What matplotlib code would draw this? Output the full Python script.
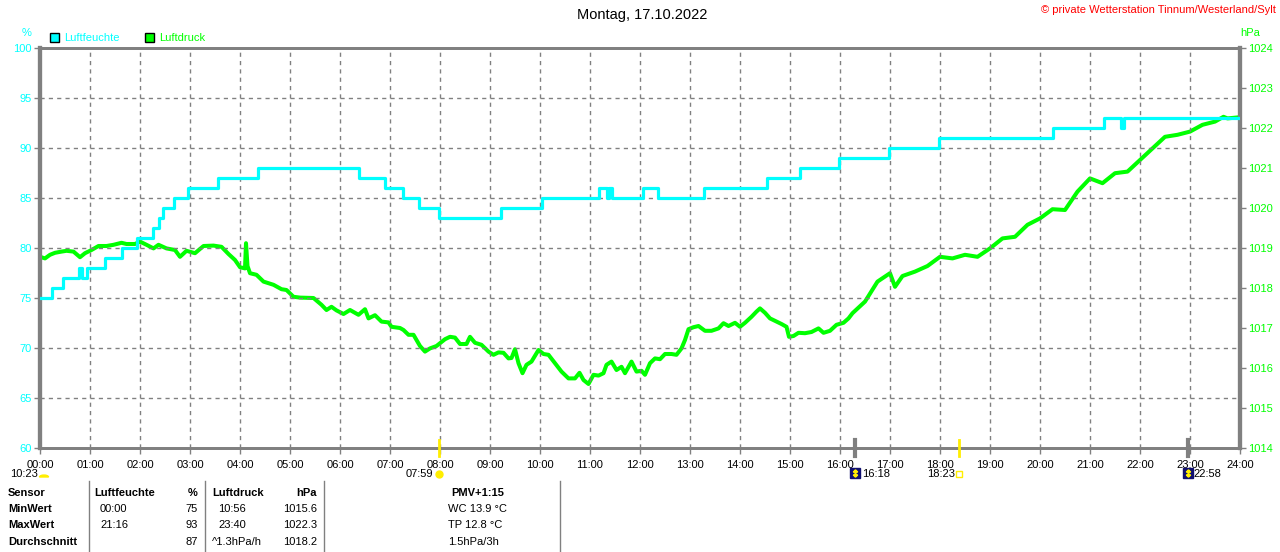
import matplotlib
matplotlib.use("Agg")
import matplotlib.pyplot as plt
import matplotlib.transforms as mtrans
from matplotlib.patches import Rectangle, Wedge
from matplotlib.lines import Line2D

# ---------------- data ----------------
hours = list(range(25))
hour_labels = [f"{h:02d}:00" for h in hours]
hum_ticks = [60, 65, 70, 75, 80, 85, 90, 95, 100]
press_ticks = list(range(1014, 1025))

hum_t = [0, 0.23, 0.45, 0.77, 0.83, 0.93, 1.30, 1.63, 1.93, 2.25, 2.37, 2.45, 2.67, 2.95,
         3.55, 4.35, 6.37, 6.89, 7.25, 7.58, 7.97, 9.21, 10.03, 11.18, 11.33, 11.38, 11.43,
         12.05, 12.35, 13.27, 14.53, 15.2, 15.97, 16.97, 17.98, 20.25, 21.27, 21.62, 21.68, 24]
hum_v = [75, 76, 77, 78, 77, 78, 79, 80, 81, 82, 83, 84, 85, 86,
         87, 88, 87, 86, 85, 84, 83, 84, 85, 86, 85, 86, 85,
         86, 85, 86, 87, 88, 89, 90, 91, 92, 93, 92, 93, 93]

press_t = [0.00, 0.10, 0.20, 0.30, 0.43, 0.53, 0.67, 0.80, 0.90, 1.03, 1.17, 1.33, 1.47, 1.63,
           1.73, 1.90, 2.00, 2.13, 2.27, 2.37, 2.53, 2.70, 2.80, 2.93, 3.10, 3.27, 3.47, 3.63,
           3.77, 3.90, 4.00, 4.10, 4.12, 4.15, 4.20, 4.33, 4.47, 4.57, 4.67, 4.83, 4.93, 5.07,
           5.20, 5.47, 5.63, 5.73, 5.83, 5.93, 6.07, 6.20, 6.37, 6.50, 6.57, 6.70, 6.83, 6.97,
           7.03, 7.20, 7.27, 7.37, 7.47, 7.60, 7.70, 7.80, 7.93, 8.00, 8.10, 8.20, 8.30, 8.40,
           8.53, 8.60, 8.70, 8.83, 8.97, 9.07, 9.17, 9.27, 9.37, 9.43, 9.50, 9.57, 9.65, 9.73,
           9.83, 9.97, 10.07, 10.17, 10.30, 10.43, 10.57, 10.70, 10.79, 10.87, 10.97, 11.07,
           11.17, 11.27, 11.33, 11.43, 11.53, 11.63, 11.70, 11.83, 11.93, 12.03, 12.10, 12.20,
           12.30, 12.40, 12.50, 12.63, 12.73, 12.83, 12.90, 12.97, 13.07, 13.17, 13.30, 13.43,
           13.57, 13.67, 13.77, 13.90, 14.00, 14.10, 14.23, 14.33, 14.40, 14.50, 14.60, 14.70,
           14.83, 14.93, 14.98, 15.07, 15.17, 15.30, 15.43, 15.57, 15.67, 15.80, 15.93, 16.07,
           16.17, 16.25, 16.50, 16.75, 17.00, 17.10, 17.25, 17.50, 17.75, 18.00, 18.25, 18.50,
           18.75, 19.00, 19.25, 19.50, 19.75, 20.00, 20.25, 20.50, 20.75, 21.00, 21.25, 21.50,
           21.75, 22.00, 22.25, 22.50, 22.75, 23.00, 23.25, 23.50, 23.67, 23.75, 24.00]
press_v = [1018.78, 1018.74, 1018.83, 1018.88, 1018.91, 1018.93, 1018.91, 1018.77, 1018.87, 1018.95,
           1019.05, 1019.05, 1019.08, 1019.13, 1019.10, 1019.10, 1019.16, 1019.08, 1018.99, 1019.08,
           1018.99, 1018.95, 1018.78, 1018.93, 1018.87, 1019.05, 1019.06, 1019.03, 1018.85, 1018.70,
           1018.52, 1018.49, 1019.12, 1018.55, 1018.37, 1018.33, 1018.16, 1018.12, 1018.08, 1017.97,
           1017.95, 1017.78, 1017.76, 1017.75, 1017.58, 1017.45, 1017.53, 1017.44, 1017.35, 1017.45,
           1017.33, 1017.47, 1017.24, 1017.32, 1017.16, 1017.14, 1017.03, 1017.00, 1016.95, 1016.83,
           1016.83, 1016.55, 1016.41, 1016.49, 1016.55, 1016.62, 1016.72, 1016.78, 1016.76, 1016.60,
           1016.60, 1016.78, 1016.63, 1016.58, 1016.41, 1016.33, 1016.39, 1016.38, 1016.24, 1016.25,
           1016.47, 1016.12, 1015.87, 1016.08, 1016.16, 1016.45, 1016.35, 1016.33, 1016.12, 1015.91,
           1015.74, 1015.74, 1015.88, 1015.70, 1015.60, 1015.83, 1015.81, 1015.87, 1016.08, 1016.16,
           1015.95, 1016.03, 1015.87, 1016.16, 1015.91, 1015.93, 1015.83, 1016.12, 1016.24, 1016.22,
           1016.35, 1016.35, 1016.33, 1016.49, 1016.70, 1016.97, 1017.02, 1017.05, 1016.93, 1016.93,
           1016.99, 1017.12, 1017.05, 1017.13, 1017.03, 1017.13, 1017.28, 1017.41, 1017.49, 1017.38,
           1017.24, 1017.18, 1017.10, 1017.03, 1016.78, 1016.80, 1016.88, 1016.87, 1016.90, 1016.99,
           1016.88, 1016.93, 1017.08, 1017.13, 1017.24, 1017.37, 1017.66, 1018.16, 1018.37, 1018.03,
           1018.30, 1018.41, 1018.55, 1018.78, 1018.74, 1018.83, 1018.78, 1018.99, 1019.24, 1019.28,
           1019.58, 1019.74, 1019.97, 1019.95, 1020.41, 1020.74, 1020.62, 1020.87, 1020.91, 1021.20,
           1021.49, 1021.78, 1021.83, 1021.91, 1022.08, 1022.16, 1022.28, 1022.24, 1022.27]

# events below x axis: (hour position, label)
sunrise = (7 + 59 / 60, "07:59")
sunset = (18 + 23 / 60, "18:23")
moon_a = (16 + 18 / 60, "16:18")
moon_b = (22 + 58 / 60, "22:58")
moon_prev = "10:23"

table_header = ["Sensor", "Luftfeuchte", "%", "Luftdruck", "hPa", "PMV+1:15"]
row_names = ["MinWert", "MaxWert", "Durchschnitt"]
hum_time = ["00:00", "21:16", ""]
hum_val = ["75", "93", "87"]
press_time = ["10:56", "23:40", "^1.3hPa/h"]
press_val = ["1015.6", "1022.3", "1018.2"]
pmv_col = ["WC 13.9 °C", "TP 12.8 °C", "1.5hPa/3h"]

# ---------------- style ----------------
CYAN = "#00FFFF"
GREEN = "#00FF00"
GRAY = "#808080"
YELLOW = "#FFEE00"
FONT = "Liberation Sans"
plt.rcParams["font.family"] = [FONT, "DejaVu Sans"]
plt.rcParams["font.size"] = 8

W, H = 1280, 552
fig = plt.figure(figsize=(W / 100, H / 100), dpi=100)
fig.patch.set_facecolor("white")
ax = fig.add_axes([40 / W, 1 - 448 / H, 1200 / W, 400 / H])
ax2 = ax.twinx()

def px(x, y):
    return x / W, 1 - y / H

def ft(x, y, s, **kw):
    fx, fy = px(x, y)
    kw.setdefault("va", "center")
    kw.setdefault("fontsize", 8)
    fig.text(fx, fy, s, **kw)

# axes, ticks, grid
ax.set_xlim(0, 24)
ax.set_ylim(60, 100)
ax2.set_ylim(1014, 1024)
ax.set_xticks(hours)
ax.set_xticklabels(hour_labels, fontsize=8)
ax.set_yticks(hum_ticks)
ax.set_yticklabels([str(v) for v in hum_ticks], color=CYAN, fontsize=8)
ax2.set_yticks(press_ticks)
ax2.set_yticklabels([str(v) for v in press_ticks], color=GREEN, fontsize=8)
ax.grid(True, color=GRAY, linestyle=(0, (3, 3)), linewidth=1)
ax.tick_params(axis="both", length=4, width=1, color=GRAY, pad=2)
ax.tick_params(axis="x", pad=5)
ax2.tick_params(axis="y", length=4, width=1, color=GRAY, pad=2)
for a in (ax, ax2):
    for side, sp in a.spines.items():
        sp.set_color(GRAY)
        sp.set_linewidth(3 if side in ("left", "right") else 2)

# data lines
ax2.plot(press_t, press_v, color=GREEN, linewidth=2.9, zorder=3)
ax.set_zorder(ax2.get_zorder() + 1)
ax.patch.set_visible(False)
ax.step(hum_t, hum_v, where="post", color=CYAN, linewidth=2.3, zorder=4)

# unit labels
ft(27, 33, "%", color=CYAN, ha="center")
ft(1250, 33, "hPa", color=GREEN, ha="center")

# legend
for x0, col, lab in [(50, CYAN, "Luftfeuchte"), (145, GREEN, "Luftdruck")]:
    fx, fy = px(x0, 42)
    fig.patches.append(Rectangle((fx, fy), 9 / W, 9 / H, transform=fig.transFigure,
                                 facecolor=col, edgecolor="black", linewidth=1))
    ft(x0 + 14, 38, lab, color=col, ha="left")

# title & copyright
ft(642, 15, "Montag, 17.10.2022", ha="center", fontsize=10.5)
ft(1276, 10, "© private Wetterstation Tinnum/Westerland/Sylt", color="red", ha="right", fontsize=8)

# event markers below axis
bt = mtrans.blended_transform_factory(ax.transData, fig.transFigure)
yb = lambda y: 1 - y / H
for (h, lab), col, lw in [(sunrise, YELLOW, 2), (sunset, YELLOW, 2),
                          (moon_a, GRAY, 3), (moon_b, GRAY, 3)]:
    fig.lines.append(Line2D([h, h], [yb(440), yb(456)], transform=bt, color=col,
                            linewidth=lw, clip_on=False))
ax.plot([sunrise[0]], [yb(474)], transform=bt, marker="o", markersize=5,
        color=YELLOW, clip_on=False)
ft(433, 474, sunrise[1], ha="right")
ax.plot([sunset[0]], [yb(474)], transform=bt, marker="s", markersize=4,
        markerfacecolor="white", markeredgecolor=YELLOW, clip_on=False)
ft(955, 474, sunset[1], ha="right")
for h, lab in (moon_a, moon_b):
    ax.plot([h], [yb(473)], transform=bt, marker="s", markersize=7,
            color="#101070", clip_on=False)
    ax.plot([h], [yb(473)], transform=bt, marker="$\u2195$", markersize=5,
            color=YELLOW, clip_on=False)
ft(862, 474, moon_a[1], ha="left")
ft(1193, 474, moon_b[1], ha="left")
ft(10, 474, moon_prev, ha="left")
fx, fy = px(40, 477)
fig.patches.append(Wedge((fx + 4 / W, fy), 4.5 / W, 0, 180,
                         transform=fig.transFigure, color=YELLOW))

# table
for xs in (89, 205, 324, 560):
    fig.lines.append(Line2D([xs / W, xs / W], [yb(481), yb(552)], transform=fig.transFigure,
                            color=GRAY, linewidth=1))
rows_y = [493, 509, 525, 542]
ft(8, rows_y[0], table_header[0], fontweight="bold")
ft(94, rows_y[0], table_header[1], fontweight="bold")
ft(198, rows_y[0], table_header[2], fontweight="bold", ha="right")
ft(212, rows_y[0], table_header[3], fontweight="bold")
ft(317, rows_y[0], table_header[4], fontweight="bold", ha="right")
ft(478, rows_y[0], table_header[5], fontweight="bold", ha="center")
for i in range(3):
    y = rows_y[i + 1]
    ft(8, y, row_names[i], fontweight="bold")
    ft(100, y, hum_time[i])
    ft(198, y, hum_val[i], ha="right")
    ft(212 if i == 2 else 218, y, press_time[i])
    ft(317, y, press_val[i], ha="right")
    ft(448, y, pmv_col[i])

fig.savefig("out.png", dpi=100, facecolor="white")
